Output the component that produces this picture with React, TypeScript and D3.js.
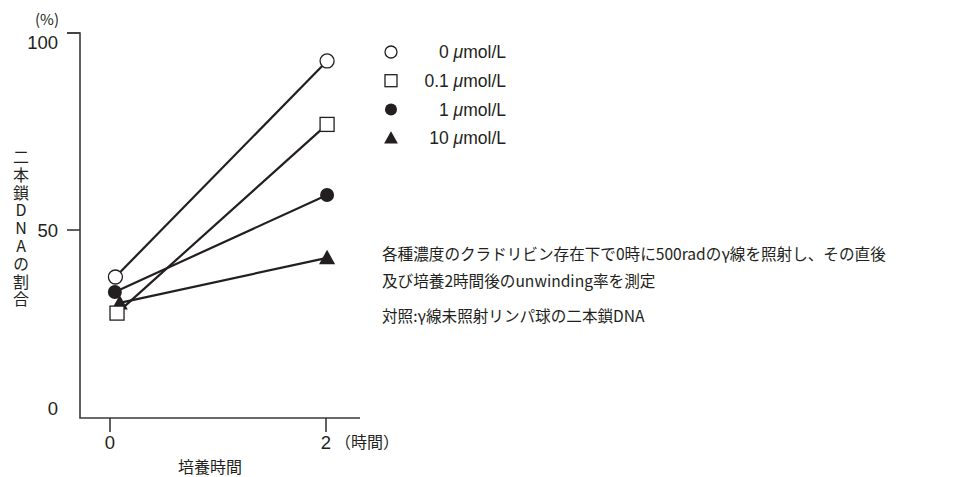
import React from "react";
import * as d3 from "d3";

const W = 959;
const H = 477;

const seriesNames = ["0 μmol/L", "0.1 μmol/L", "1 μmol/L", "10 μmol/L"];
const seriesDoses = ["0", "0.1", "1", "10"];
const seriesShapes = ["openCircle", "openSquare", "filledCircle", "filledTriangle"];
const seriesTimes = [
  [0.05, 2.01],
  [0.065, 2.01],
  [0.045, 2.01],
  [0.09, 2.01],
];
const seriesValues = [
  [37.5, 92.9],
  [27.9, 76.8],
  [33.5, 58.9],
  [30.6, 42.6],
];
const yTicks = [0, 50, 100];
const xTicks = [0, 2];
const yLabel = "二本鎖DNAの割合";
const noteLines = [
  "各種濃度のクラドリビン存在下で0時に500radのγ線を照射し、その直後",
  "及び培養2時間後のunwinding率を測定",
  "対照:γ線未照射リンパ球の二本鎖DNA",
];

const LATIN = "'Liberation Sans', 'Noto Sans CJK JP', sans-serif";
const CJK = "'Noto Sans CJK JP', sans-serif";
const INK = "#231f20";

function Marker({ shape, x, y, r }: { shape: string; x: number; y: number; r: number }) {
  const sw = 1.3;
  if (shape === "openCircle")
    return <circle cx={x} cy={y} r={r} fill="#fff" stroke={INK} strokeWidth={sw} />;
  if (shape === "filledCircle") return <circle cx={x} cy={y} r={r} fill={INK} />;
  if (shape === "openSquare")
    return (
      <rect x={x - r} y={y - r} width={2 * r} height={2 * r} fill="#fff" stroke={INK} strokeWidth={sw} />
    );
  const s = r * 1.15;
  const path = `M${x},${y - s} L${x + s},${y + s * 0.8} L${x - s},${y + s * 0.8} Z`;
  return <path d={path} fill={INK} />;
}

export default function App() {
  const x = d3.scaleLinear().domain([0, 2]).range([110, 326]);
  const y = d3.scaleLinear().domain([0, 50, 100]).range([418, 230, 33]);
  const line = d3
    .line<[number, number]>()
    .x((d) => x(d[0]))
    .y((d) => y(d[1]));

  const axisX0 = 80;
  const axisYBottom = 418;
  const yLabelOffset: Record<number, number> = { 0: -10, 50: 0, 100: 9 };

  return (
    <svg
      width={W}
      height={H}
      style={{ position: "absolute", left: 0, top: 0, background: "#fff" }}
    >
      {/* axes */}
      <path
        d={`M${axisX0 - 13},${y(100)} H${axisX0} V${axisYBottom} H360`}
        fill="none"
        stroke="#3a3a3a"
        strokeWidth={1.6}
      />
      {yTicks
        .filter((t) => t !== 0)
        .map((t) => (
          <line key={t} x1={axisX0 - 13} x2={axisX0} y1={y(t)} y2={y(t)} stroke="#3a3a3a" strokeWidth={1.6} />
        ))}
      {xTicks.map((t) => (
        <line key={t} x1={x(t)} x2={x(t)} y1={axisYBottom} y2={axisYBottom + 14} stroke="#3a3a3a" strokeWidth={1.6} />
      ))}
      {yTicks.map((t) => (
        <text
          key={t}
          x={58}
          y={y(t) + yLabelOffset[t]}
          dy="0.36em"
          textAnchor="end"
          fontFamily={LATIN}
          fontSize={18.5}
          fill={INK}
        >
          {t}
        </text>
      ))}
      <text x={47} y={25} textAnchor="middle" fontFamily={CJK} fontSize={15} fill={INK}>
        (%)
      </text>
      {xTicks.map((t) => (
        <text key={t} x={x(t)} y={449} textAnchor="middle" fontFamily={LATIN} fontSize={18.5} fill={INK}>
          {t}
        </text>
      ))}
      <text x={335} y={448} fontFamily={CJK} fontSize={16} fill={INK}>
        （時間）
      </text>
      <text x={210} y={473} textAnchor="middle" fontFamily={CJK} fontSize={16} fill={INK}>
        培養時間
      </text>
      <text
        x={21}
        y={149}
        fontFamily={CJK}
        fontSize={16}
        fill={INK}
        letterSpacing={1.8}
        style={{ writingMode: "vertical-rl", textOrientation: "upright" } as React.CSSProperties}
      >
        {yLabel}
      </text>

      {/* lines */}
      {seriesValues.map((vals, i) => (
        <path
          key={i}
          d={line(seriesTimes[i].map((t, j) => [t, vals[j]] as [number, number])) || ""}
          fill="none"
          stroke={INK}
          strokeWidth={2.2}
        />
      ))}
      {/* markers: draw in order so square is on top of triangle */}
      {[3, 0, 2, 1].map((i) =>
        seriesValues[i].map((v, j) => (
          <Marker key={`${i}-${j}`} shape={seriesShapes[i]} x={x(seriesTimes[i][j])} y={y(v)} r={7} />
        ))
      )}

      {/* legend */}
      {seriesNames.map((name, i) => {
        const ly = 52 + i * 28.7;
        return (
          <g key={name}>
            <Marker shape={seriesShapes[i]} x={391} y={ly} r={6} />
            <text x={506} y={ly} dy="0.36em" textAnchor="end" fontFamily={LATIN} fontSize={17.5} fill={INK}>
              {seriesDoses[i]}{" "}
              <tspan fontStyle="italic">μ</tspan>mol/L
            </text>
          </g>
        );
      })}

      {/* notes */}
      {noteLines.map((t, i) => (
        <text
          key={i}
          x={382}
          y={[255, 282, 317][i]}
          dy="0.35em"
          fontFamily={CJK}
          fontSize={15.6}
          fill={INK}
        >
          {t}
        </text>
      ))}
    </svg>
  );
}
